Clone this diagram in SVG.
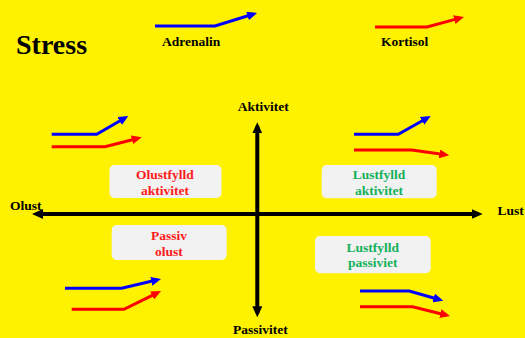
<svg xmlns="http://www.w3.org/2000/svg" width="525" height="338" viewBox="0 0 525 338">
<style>
text{font-family:"Liberation Serif","Times New Roman",serif;font-weight:bold}
.lbl{font-size:13.5px;fill:#000}
.box{fill:#f2f2f2}
.red{fill:#ff1a1a;font-size:13.5px;text-anchor:middle}
.grn{fill:#14b05a;font-size:13.5px;text-anchor:middle}
.b{fill:none;stroke:#0000ff;stroke-width:3;marker-end:url(#hb)}
.r{fill:none;stroke:#ff0000;stroke-width:3;marker-end:url(#hr)}
.ax{fill:none;stroke:#000;stroke-width:4;marker-end:url(#ha);marker-start:url(#ha)}
</style>
<defs>
<marker id="hb" viewBox="0 0 10 9" markerWidth="10" markerHeight="9" refX="6.5" refY="4.5" markerUnits="userSpaceOnUse" orient="auto"><path d="M0,0 L10,4.5 L0,9 z" fill="#0000ff"/></marker>
<marker id="hr" viewBox="0 0 10 9" markerWidth="10" markerHeight="9" refX="6.5" refY="4.5" markerUnits="userSpaceOnUse" orient="auto"><path d="M0,0 L10,4.5 L0,9 z" fill="#ff0000"/></marker>
<marker id="ha" viewBox="0 0 11 10" markerWidth="11" markerHeight="10" refX="7" refY="5" markerUnits="userSpaceOnUse" orient="auto-start-reverse"><path d="M0,0 L11,5 L0,10 z" fill="#000"/></marker>
</defs>
<rect width="525" height="338" fill="#fff200"/>
<text x="16" y="54" font-size="28">Stress</text>
<g id="legend">
<polyline class="b" points="155,26 215,26 253.7,14"/>
<text class="lbl" x="162" y="46">Adrenalin</text>
<polyline class="r" points="375,27 427,27 460.6,17.9"/>
<text class="lbl" x="381" y="46">Kortisol</text>
</g>
<g id="connectors">
<line class="ax" x1="257.3" y1="126.3" x2="257.3" y2="313.3"/>
<line class="ax" x1="478.7" y1="214" x2="36" y2="214"/>
<polyline class="b" points="51.7,134.3 96.7,134.3 125.3,117.8"/>
<polyline class="r" points="51.7,146.7 105,146.7 138.3,138.2"/>
<polyline class="b" points="354,134.3 398.3,134.3 427.7,117.7"/>
<polyline class="r" points="354,150 411.7,150 445.8,154.8"/>
<polyline class="b" points="65,288.3 121.7,288.3 157.6,279.8"/>
<polyline class="r" points="71.7,309.3 124,309.3 157.9,292.6"/>
<polyline class="b" points="360,291 409.3,291 439.9,299.7"/>
<polyline class="r" points="360,306.7 412.7,306.7 446.6,315.2"/>
</g>
<g id="axis-labels">
<text class="lbl" x="237.7" y="111">Aktivitet</text>
<text class="lbl" x="233" y="334">Passivitet</text>
<text class="lbl" x="10" y="210">Olust</text>
<text class="lbl" x="497.5" y="215">Lust</text>
</g>
<g id="olustfylld-aktivitet">
<rect class="box" x="109.5" y="165" width="112" height="33" rx="5"/>
<text class="red" x="165" y="179">Olustfylld</text>
<text class="red" x="165" y="195">aktivitet</text>
</g>
<g id="passiv-olust">
<rect class="box" x="111.7" y="225" width="115" height="35" rx="5"/>
<text class="red" x="169" y="240">Passiv</text>
<text class="red" x="169" y="255.5">olust</text>
</g>
<g id="lustfylld-aktivitet">
<rect class="box" x="321.7" y="165" width="115" height="33.3" rx="5"/>
<text class="grn" x="379" y="179">Lustfylld</text>
<text class="grn" x="379" y="195">aktivitet</text>
</g>
<g id="lustfylld-passiviet">
<rect class="box" x="315" y="236" width="115.7" height="37.3" rx="5"/>
<text class="grn" x="372.7" y="252.3">Lustfylld</text>
<text class="grn" x="372.7" y="267.3">passiviet</text>
</g>
</svg>
